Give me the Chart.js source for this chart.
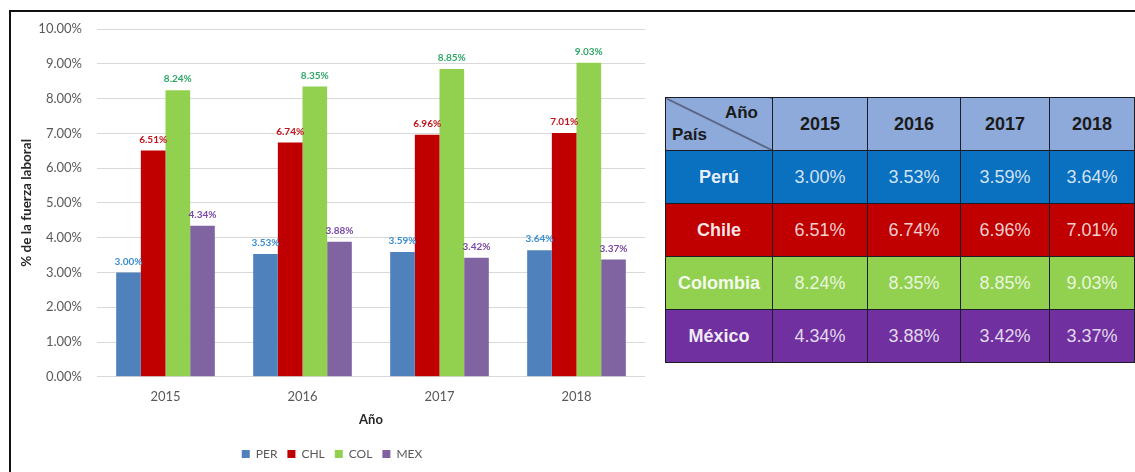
<!DOCTYPE html>
<html>
<head>
<meta charset="utf-8">
<script src="https://cdn.jsdelivr.net/npm/chart.js@4.4.1/dist/chart.umd.min.js"></script>
<style>
html, body { margin:0; padding:0; background:#fff; width:1135px; height:472px; overflow:hidden; }
#frame { position:absolute; left:9px; top:10px; width:1200px; height:500px; border-top:2px solid #111; border-left:2px solid #111; }
#chartBox { position:absolute; left:0; top:0; width:660px; height:472px; }
#tbl { position:absolute; left:665px; top:97px; border-collapse:collapse; table-layout:fixed;
       font-family:"Liberation Sans", Arial, sans-serif; font-size:18px; }
#tbl td { border:1px solid #1c1c28; text-align:center; padding:0; height:52px; }
#tbl .head { background:#8eaadb; color:#1a1a1a; font-weight:bold; }
#tbl .name { font-weight:bold; color:rgba(255,255,255,0.92); }
#tbl .val { color:rgba(255,255,255,0.82); }
#tbl .corner { position:relative; background:#8eaadb linear-gradient(to top right, transparent calc(50% - 1px), #2a2a33 50%, transparent calc(50% + 1px)); }
#tbl .corner span { position:absolute; font-weight:bold; color:#1a1a1a; font-size:17px; }
</style>
</head>
<body>
<div id="frame"></div>
<div id="chartBox"><canvas id="myChart"></canvas></div>
<table id="tbl"></table>
<script>
//categories and series
const years = ['2015', '2016', '2017', '2018'];
const codes = ['PER', 'CHL', 'COL', 'MEX'];
const countries = ['Perú', 'Chile', 'Colombia', 'México'];
const per = [3.00, 3.53, 3.59, 3.64];
const chl = [6.51, 6.74, 6.96, 7.01];
const col = [8.24, 8.35, 8.85, 9.03];
const mex = [4.34, 3.88, 3.42, 3.37];
const series = [per, chl, col, mex];

//styles
const barColors = ['#4f81bd', '#c00000', '#92d050', '#8064a2'];
const labelColors = ['#3b8ed2', '#c0141c', '#2fa866', '#7a48a6'];
const rowColors = ['#0a70c0', '#c00000', '#92d050', '#7030a0'];
const font = 'Lato';

//labels on top of each bar
const barLabels = {
    id: 'barLabels',
    afterDatasetsDraw(chart) {
        const ctx = chart.ctx;
        ctx.save();
        ctx.font = 'bold 10px ' + font;
        ctx.textAlign = 'center';
        ctx.textBaseline = 'bottom';
        chart.data.datasets.forEach((ds, i) => {
            chart.getDatasetMeta(i).data.forEach((bar, j) => {
                ctx.fillStyle = labelColors[i];
                ctx.fillText(ds.data[j].toFixed(2) + '%', bar.x, bar.y - 6);
            });
        });
        ctx.restore();
    }
};

const ctx = document.getElementById('myChart');
new Chart(ctx, {
    type: 'bar',
    data: {
        labels: years,
        datasets: codes.map((c, i) => ({
            label: c,
            data: series[i],
            backgroundColor: barColors[i],
            categoryPercentage: 0.72,
            barPercentage: 1.0
        }))
    },
    options: {
        responsive: true,
        maintainAspectRatio: false,
        animation: false,
        layout: { padding: { left: 19, top: 29, right: 15, bottom: 2 } },
        plugins: {
            tooltip: { enabled: false },
            legend: {
                position: 'bottom',
                labels: { boxWidth: 8, boxHeight: 8, padding: 10, color: '#595959', font: { family: font, size: 12 } }
            }
        },
        scales: {
            x: {
                grid: { display: false, drawTicks: false },
                border: { display: false },
                ticks: { color: '#595959', font: { family: font, size: 13 }, padding: 12 },
                title: { display: true, text: 'Año', color: '#262626', font: { family: font, size: 13, weight: 'bold' }, padding: { top: -4, bottom: 10 } }
            },
            y: {
                min: 0,
                max: 10,
                ticks: { stepSize: 1, padding: 15, color: '#595959', font: { family: font, size: 13 },
                         callback: v => v.toFixed(2) + '%' },
                grid: { color: '#d9d9d9', drawTicks: false },
                border: { display: false },
                title: { display: true, text: '% de la fuerza laboral', color: '#262626', font: { family: font, size: 13.5, weight: 'bold' }, padding: 0 },
                afterFit(scale) { scale.width = 78; }
            }
        }
    },
    plugins: [barLabels]
});

//table built from the same arrays
const colWidths = [107, 95, 93, 89, 85];
const tbl = document.getElementById('tbl');
let html = '<colgroup>' + colWidths.map(w => '<col style="width:' + w + 'px">').join('') + '</colgroup>';
html += '<tr><td class="head corner"><span style="right:14px;top:5px">Año</span><span style="left:6px;bottom:5px">País</span></td>';
years.forEach(y => { html += '<td class="head">' + y + '</td>'; });
html += '</tr>';
countries.forEach((name, i) => {
    html += '<tr style="background:' + rowColors[i] + '"><td class="name">' + name + '</td>';
    series[i].forEach(v => { html += '<td class="val">' + v.toFixed(2) + '%</td>'; });
    html += '</tr>';
});
tbl.innerHTML = html;
</script>
</body>
</html>
